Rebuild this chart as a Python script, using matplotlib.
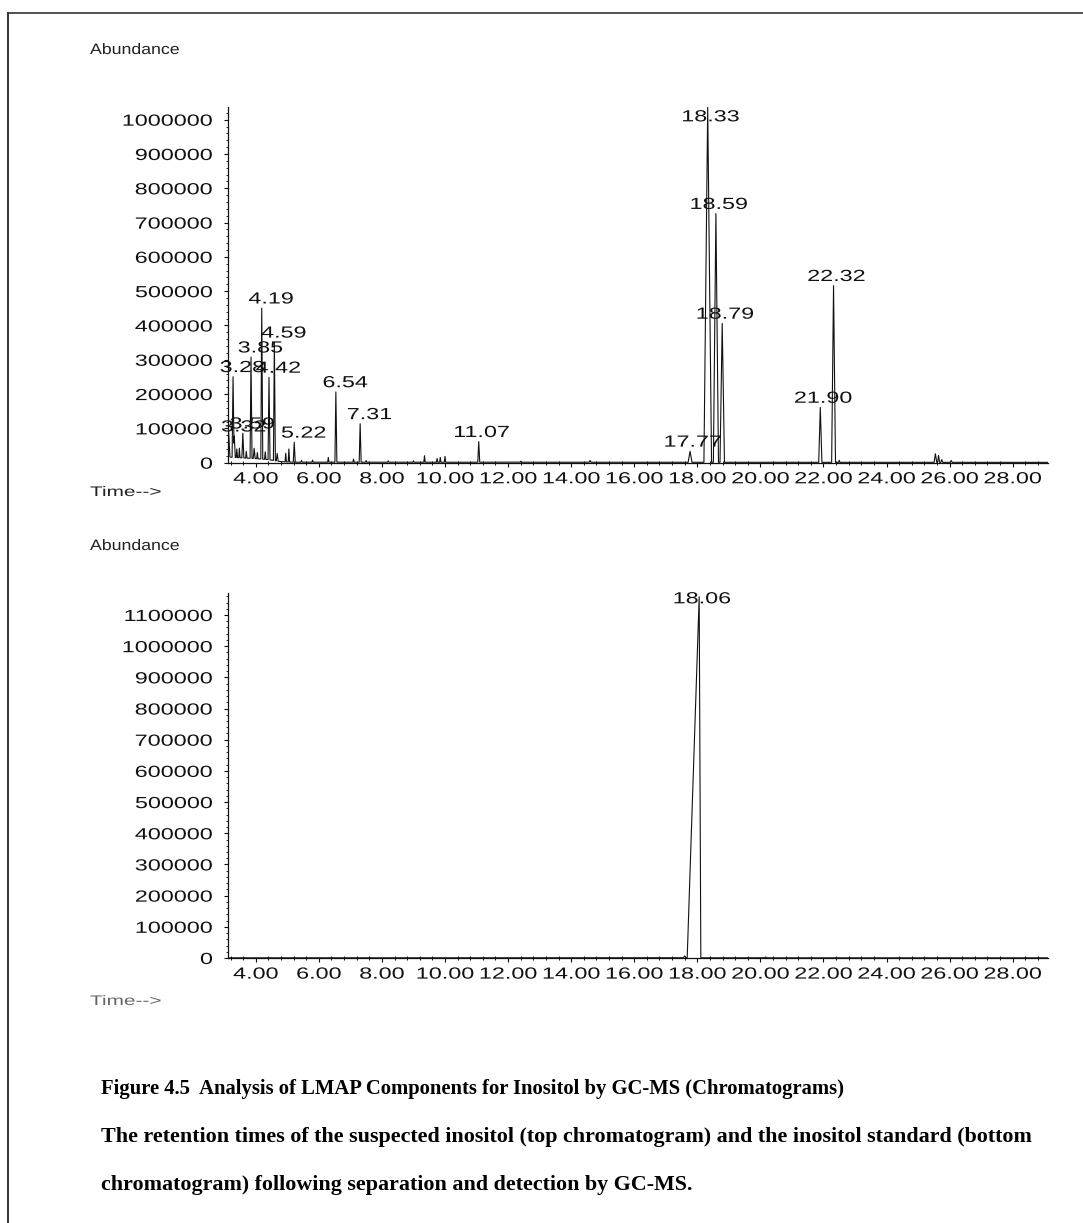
import numpy as np
import matplotlib
matplotlib.use("Agg")
import matplotlib.pyplot as plt
from matplotlib import patheffects
from matplotlib.transforms import Affine2D
from matplotlib.lines import Line2D
from matplotlib.ticker import MultipleLocator

# ---------------- data ----------------
# Top chromatogram (LMAP sample): peak retention times [min], apex abundance,
# and left/right half base widths [min]
sample_rt = [3.14, 3.28, 3.32, 3.40, 3.48, 3.59, 3.70, 3.85, 3.95, 4.05,
             4.19, 4.30, 4.42, 4.59, 4.68, 4.95, 5.05, 5.22, 5.45, 5.80,
             6.30, 6.54, 7.10, 7.31, 7.50, 8.20, 9.00, 9.35, 9.75, 9.85,
             10.00, 11.07, 12.40, 14.60, 17.77, 18.33, 18.59, 18.79, 21.90,
             22.32, 22.50, 25.55, 25.65, 25.75, 26.05]
sample_abund = [70000, 235000, 62000, 25000, 28000, 72000, 20000, 295000, 30000, 18000,
                440000, 22000, 240000, 345000, 22000, 25000, 38000, 58000, 5000, 6000,
                14000, 205000, 9000, 112000, 5000, 4000, 4000, 19000, 11000, 14000,
                17000, 60000, 3000, 5000, 32000, 1035000, 725000, 405000, 160000,
                515000, 6000, 25000, 20000, 8000, 5000]
sample_wl = [0.04, 0.03, 0.03, 0.02, 0.02, 0.03, 0.02, 0.03, 0.03, 0.02,
             0.03, 0.02, 0.03, 0.03, 0.03, 0.02, 0.02, 0.03, 0.02, 0.02,
             0.02, 0.03, 0.02, 0.03, 0.02, 0.02, 0.02, 0.02, 0.02, 0.02,
             0.02, 0.03, 0.02, 0.03, 0.06, 0.12, 0.08, 0.07, 0.05,
             0.06, 0.02, 0.04, 0.03, 0.03, 0.03]
sample_wr = sample_wl
# slowly varying baseline (solvent tail) of the sample run
sample_base_t = [3.12, 3.20, 3.60, 4.00, 4.40, 4.80, 5.20, 29.12]
sample_base_y = [20000, 16000, 14000, 12000, 9000, 3000, 1500, 1000]
sample_labels = ["3.28", "3.32", "3.59", "3.85", "4.19", "4.42", "4.59", "5.22",
                 "6.54", "7.31", "11.07", "17.77", "18.33", "18.59", "18.79",
                 "21.90", "22.32"]

# Bottom chromatogram (inositol standard)
standard_rt = [17.60, 18.06, 20.17]
standard_abund = [6000, 1158000, 3000]
standard_wl = [0.04, 0.38, 0.03]
standard_wr = [0.04, 0.05, 0.03]
standard_base_t = [3.12, 29.12]
standard_base_y = [500, 500]
standard_labels = ["18.06"]

x_ticks = [4.00, 6.00, 8.00, 10.00, 12.00, 14.00, 16.00, 18.00, 20.00,
           22.00, 24.00, 26.00, 28.00]
sample_y_ticks = [0, 100000, 200000, 300000, 400000, 500000, 600000,
                  700000, 800000, 900000, 1000000]
standard_y_ticks = [0, 100000, 200000, 300000, 400000, 500000, 600000,
                    700000, 800000, 900000, 1000000, 1100000]

caption_lines = [
    "Figure 4.5  Analysis of LMAP Components for Inositol by GC-MS (Chromatograms)",
    "The retention times of the suspected inositol (top chromatogram) and the inositol standard (bottom",
    "chromatogram) following separation and detection by GC-MS.",
]

# ---------------- helpers ----------------
W, H = 1083, 1223
DPI = 100
XLIM = (3.12, 29.12)


class Stretch(patheffects.AbstractPathEffect):
    """Widen (or narrow) glyph outlines horizontally about an anchor."""

    def __init__(self, sx, anchor="center"):
        super().__init__()
        self.sx = sx
        self.anchor = anchor

    def draw_path(self, renderer, gc, tpath, affine, rgbFace=None):
        v = tpath.vertices
        if len(v):
            lo, hi = float(v[:, 0].min()), float(v[:, 0].max())
        else:
            lo = hi = 0.0
        a = {"left": lo, "center": 0.5 * (lo + hi), "right": hi}[self.anchor]
        t = Affine2D().translate(-a, 0).scale(self.sx, 1.0).translate(a, 0) + affine
        renderer.draw_path(gc, tpath, t, rgbFace)


def build_trace(base_t, base_y, rt, h, wl, wr):
    t = np.union1d(np.arange(XLIM[0], XLIM[1], 0.002), rt)
    y = np.interp(t, base_t, base_y)
    for c, a, l, r in zip(rt, h, wl, wr):
        m = (t >= c - l) & (t <= c)
        y[m] += a * (t[m] - (c - l)) / l
        m = (t > c) & (t <= c + r)
        y[m] += a * ((c + r) - t[m]) / r
    return t, y


NUM_SIZE = 11.6
NUM_SX = 1.45
SANS = "Liberation Sans"


def px(v):
    return v / W


def py(v):
    return 1 - v / H


def style_axes(ax, ymax, yticks):
    ax.set_xlim(*XLIM)
    ax.set_ylim(0, ymax)
    for s in ("top", "right"):
        ax.spines[s].set_visible(False)
    for s in ("left", "bottom"):
        ax.spines[s].set_linewidth(0.9)
        ax.spines[s].set_color("#111111")
    ax.set_xticks(x_ticks)
    ax.set_xticklabels([f"{v:.2f}" for v in x_ticks])
    ax.xaxis.set_minor_locator(MultipleLocator(0.4))
    ax.set_yticks(yticks)
    ax.set_yticklabels([f"{v:d}" for v in yticks])
    ax.yaxis.set_minor_locator(MultipleLocator(20000))
    ax.tick_params(axis="x", which="major", direction="out", length=3.2, width=0.8,
                   pad=3.0, labelsize=NUM_SIZE, colors="#111111")
    ax.tick_params(axis="x", which="minor", direction="inout", length=3.0, width=0.7,
                   colors="#111111")
    ax.tick_params(axis="y", which="major", direction="out", length=3.0, width=0.8,
                   pad=8.0, labelsize=NUM_SIZE, colors="#111111")
    ax.tick_params(axis="y", which="minor", direction="out", length=1.6, width=0.6,
                   colors="#111111")
    for lab in ax.get_xticklabels():
        lab.set_fontfamily(SANS)
        lab.set_path_effects([Stretch(NUM_SX, "center")])
    for lab in ax.get_yticklabels():
        lab.set_fontfamily(SANS)
        lab.set_path_effects([Stretch(NUM_SX, "right")])
    ax.set_facecolor("none")


def label_peaks(ax, t, y, labels, ymax, ax_h_px, top_gap_px):
    cap = 1 - top_gap_px / ax_h_px
    for s in labels:
        rt = float(s)
        apex = float(np.interp(rt, t, y))
        yf = min(apex / ymax, cap)
        # put the decimal point of the label over the peak
        n_int = len(s.split(".")[0])
        total_em = 0.556 * (len(s) - 1) + 0.278
        dot_em = 0.556 * n_int + 0.139
        dx = (total_em / 2 - dot_em) * NUM_SIZE * NUM_SX + 2.0
        ax.annotate(s, xy=(rt, yf), xycoords=ax.get_xaxis_transform(),
                    xytext=(dx, 1.2), textcoords="offset points",
                    ha="center", va="bottom", fontsize=NUM_SIZE, family=SANS,
                    color="#111111",
                    path_effects=[Stretch(NUM_SX, "center")])


# ---------------- figure ----------------
fig = plt.figure(figsize=(W / DPI, H / DPI), dpi=DPI)
fig.patch.set_facecolor("white")

ax_left, ax_right = 228, 1048
top_y0, top_y1 = 462.7, 107.0
bot_y0, bot_y1 = 958.0, 593.0

ax1 = fig.add_axes([px(ax_left), py(top_y0), px(ax_right - ax_left), (top_y0 - top_y1) / H])
ax2 = fig.add_axes([px(ax_left), py(bot_y0), px(ax_right - ax_left), (bot_y0 - bot_y1) / H])

t1, y1 = build_trace(sample_base_t, sample_base_y, sample_rt, sample_abund,
                     sample_wl, sample_wr)
t2, y2 = build_trace(standard_base_t, standard_base_y, standard_rt, standard_abund,
                     standard_wl, standard_wr)

ymax1, ymax2 = 1037000, 1170600
ax1.plot(t1, y1, color="#111111", lw=0.8, clip_on=True)
ax2.plot(t2, y2, color="#111111", lw=0.8, clip_on=True)
style_axes(ax1, ymax1, sample_y_ticks)
style_axes(ax2, ymax2, standard_y_ticks)
label_peaks(ax1, t1, y1, sample_labels, ymax1, top_y0 - top_y1, 19.0)
label_peaks(ax2, t2, y2, standard_labels, ymax2, bot_y0 - bot_y1, 15.0)

# axis captions
fig.text(px(90), py(50), "Abundance", ha="left", va="center", fontsize=10.9,
         family=SANS, color="#222222", path_effects=[Stretch(1.17, "left")])
fig.text(px(90), py(546), "Abundance", ha="left", va="center", fontsize=10.9,
         family=SANS, color="#222222", path_effects=[Stretch(1.17, "left")])
fig.text(px(90), py(492), "Time-->", ha="left", va="center", fontsize=10.0,
         family=SANS, color="#222222", path_effects=[Stretch(1.5, "left")])
fig.text(px(90), py(1001), "Time-->", ha="left", va="center", fontsize=10.0,
         family=SANS, color="#666666", path_effects=[Stretch(1.5, "left")])

# figure caption: title line, then the two-line description
for yy, line, size in zip([1089, 1137, 1185], caption_lines, [14.9, 15.8, 15.8]):
    fig.text(px(101), py(yy), line, ha="left", va="center", fontsize=size,
             family="Liberation Serif", weight="bold", color="#000000")

# page frame
fig.add_artist(Line2D([px(8), 1.0], [py(13), py(13)], transform=fig.transFigure,
                      color="#333333", lw=1.2))
fig.add_artist(Line2D([px(8), px(8)], [py(13), 0.0], transform=fig.transFigure,
                      color="#333333", lw=1.4))

fig.savefig("out.png", dpi=DPI, facecolor="white")
